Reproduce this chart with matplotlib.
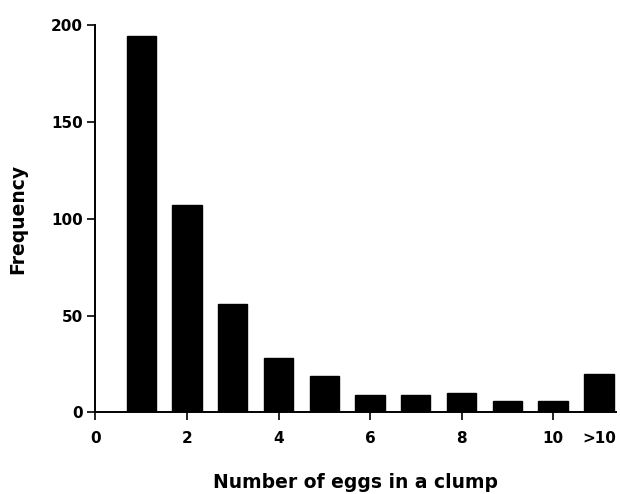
import numpy as np
import matplotlib
matplotlib.use('Agg')
import matplotlib.pyplot as plt

plt.rcParams['font.family'] = ['DejaVu Sans']

# ============ 数据 ============
CLUMP_SIZE = [1, 2, 3, 4, 5, 6, 7, 8, 9, 10, 11]      # 11 = ">10"
FREQUENCY = [194, 107, 56, 28, 19, 9, 9, 10, 6, 6, 20]
XTICKS = [0, 2, 4, 6, 8, 10, 11]
XTICK_LABELS = ['0', '2', '4', '6', '8', '10', '>10']
YTICKS = [0, 50, 100, 150, 200]

fig = plt.figure(figsize=(6.2, 4.94), dpi=100)
ax = fig.add_axes([0.154, 0.165, 0.84, 0.785])

ax.bar(CLUMP_SIZE, FREQUENCY, width=0.64, color='black', edgecolor='black', zorder=2)

ax.set_xlim(0, 11.38)
ax.set_ylim(0, 200)
ax.set_xticks(XTICKS)
ax.set_xticklabels(XTICK_LABELS)
ax.set_yticks(YTICKS)

# ">10" 没有刻度线
ax.xaxis.get_major_ticks()[-1].tick1line.set_visible(False)

ax.spines['top'].set_visible(False)
ax.spines['right'].set_visible(False)
for s in ('left', 'bottom'):
    ax.spines[s].set_linewidth(1.4)

ax.tick_params(axis='x', length=6, width=1.2, pad=7, labelsize=11)
ax.tick_params(axis='y', length=6, width=1.2, pad=3, labelsize=11)
for lbl in ax.get_xticklabels() + ax.get_yticklabels():
    lbl.set_fontweight('bold')

ax.set_xlabel('Number of eggs in a clump', fontsize=13.5, fontweight='bold', labelpad=20)
ax.set_ylabel('Frequency', fontsize=13.5, fontweight='bold', labelpad=17)

plt.savefig('out.png', dpi=100, facecolor='white')
